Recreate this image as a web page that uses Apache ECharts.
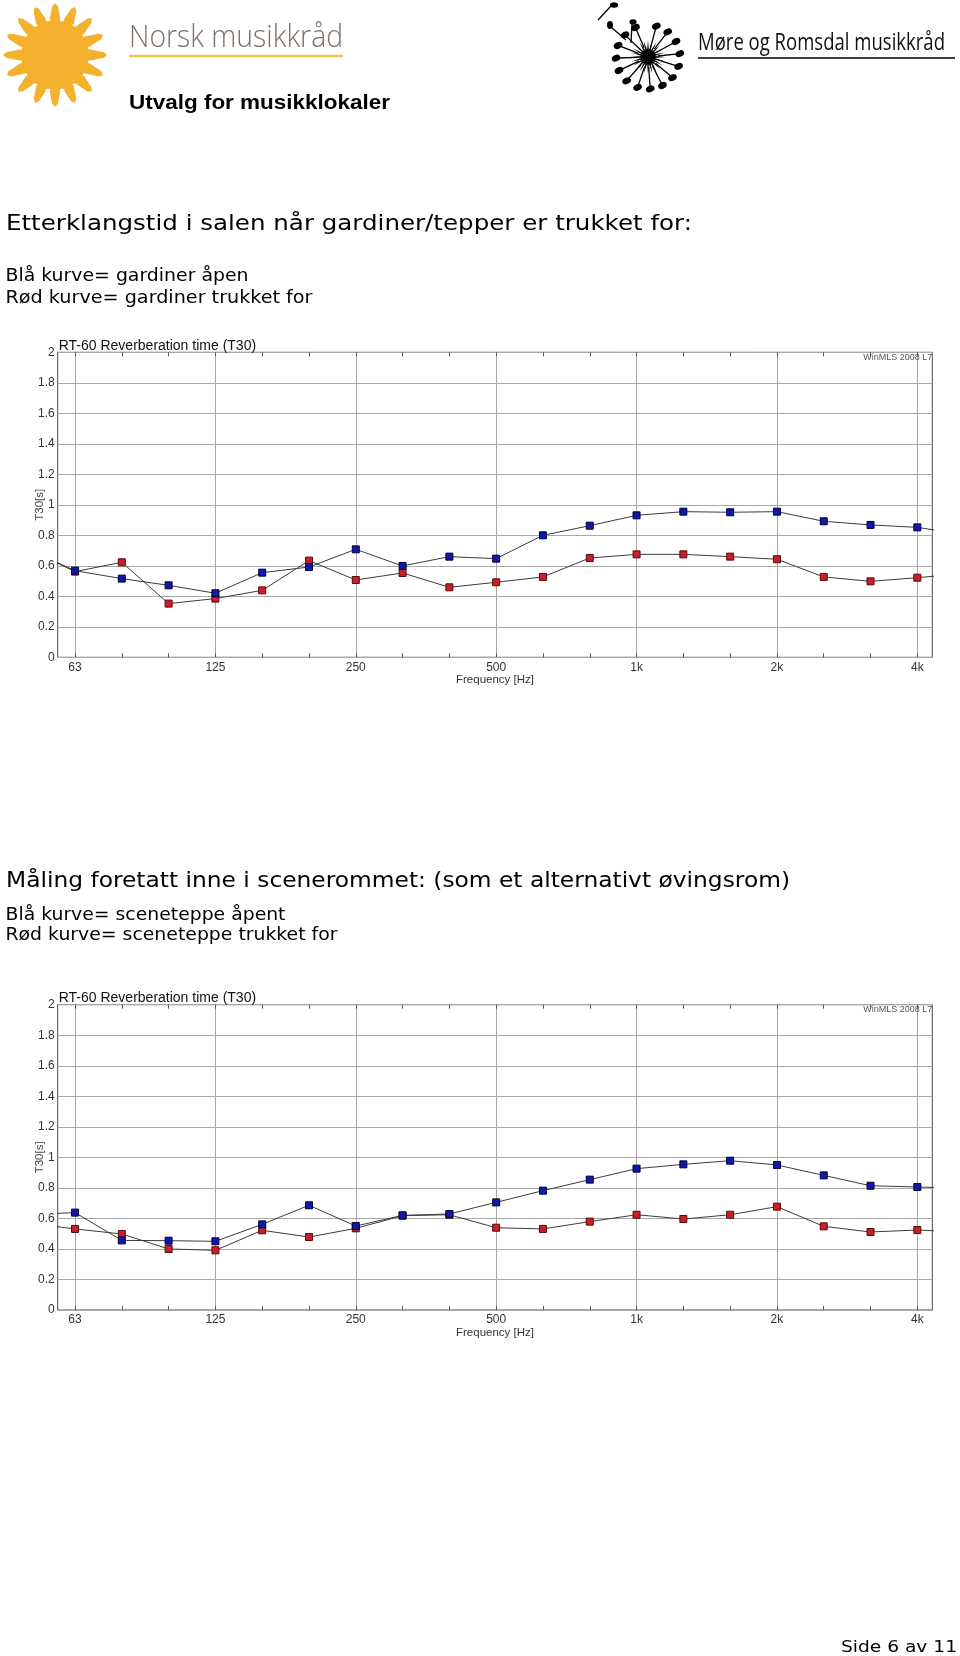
<!DOCTYPE html>
<html>
<head>
<meta charset="utf-8">
<script src="https://cdn.jsdelivr.net/npm/echarts@6/dist/echarts.min.js"></script>
<style>
  html, body { margin: 0; padding: 0; background: #fff; }
  #page { position: relative; width: 960px; height: 1656px; overflow: hidden; background: #fff; }
  #chart { position: absolute; left: 0; top: 0; width: 960px; height: 1656px; z-index: 1; }
  #overlay { position: absolute; left: 0; top: 0; z-index: 2; pointer-events: none; }
</style>
</head>
<body>
<div id="page">
  <div id="chart"></div>
  <svg id="overlay" width="960" height="1656" xmlns="http://www.w3.org/2000/svg"></svg>
</div>
<script>
// ---------------- DATA ----------------
// third-octave bands; 50 Hz and 5k lie just outside the plotted range (lines run off the edges)
const bands = ['50','63','80','100','125','160','200','250','315','400','500','630','800','1k','1.25k','1.6k','2k','2.5k','3.15k','4k','5k'];
const octaveLabels = ['63','125','250','500','1k','2k','4k'];
const yTicks = [0, 0.2, 0.4, 0.6, 0.8, 1, 1.2, 1.4, 1.6, 1.8, 2];

// Chart 1: hall, curtains open (blue) / curtains drawn (red)
const hallOpen   = [0.71, 0.568, 0.516, 0.472, 0.420, 0.555, 0.592, 0.708, 0.599, 0.660, 0.647, 0.800, 0.863, 0.931, 0.955, 0.951, 0.955, 0.892, 0.868, 0.852, 0.805];
const hallClosed = [0.71, 0.562, 0.623, 0.352, 0.385, 0.439, 0.634, 0.507, 0.553, 0.459, 0.492, 0.527, 0.651, 0.675, 0.675, 0.660, 0.643, 0.527, 0.498, 0.522, 0.55];
// Chart 2: stage room, stage curtain open (blue) / drawn (red)
const stageOpen   = [0.625, 0.638, 0.456, 0.454, 0.450, 0.561, 0.686, 0.550, 0.620, 0.629, 0.705, 0.782, 0.854, 0.926, 0.954, 0.978, 0.950, 0.882, 0.814, 0.806, 0.797];
const stageClosed = [0.57, 0.531, 0.498, 0.400, 0.391, 0.522, 0.478, 0.535, 0.618, 0.624, 0.539, 0.531, 0.579, 0.624, 0.596, 0.624, 0.677, 0.548, 0.511, 0.524, 0.51];

const chartTitle = 'RT-60 Reverberation time (T30)';
const watermark = 'WinMLS 2008 L7';
const yName = 'T30[s]';
const xName = 'Frequency [Hz]';

// ---------------- LAYOUT ----------------
const bandPos = bands.map((b, i) => i - 1);           // 63 Hz -> 0
const tickPos = bandPos.filter(p => p >= 0 && p <= 18);
const octavePos = octaveLabels.map((l, i) => i * 3);
const X_MIN = -0.37, X_MAX = 18.32;
const grids = [
  { left: 57.7, top: 352.3, width: 874.6, height: 305 },
  { left: 57.7, top: 1004.7, width: 874.6, height: 305.3 }
];
const LABEL_FONT = 'Liberation Sans, Arial, sans-serif';

function toPairs(vals) { return vals.map((v, i) => [bandPos[i], v]); }

const xAxes = [], yAxes = [], series = [], graphics = [];
grids.forEach((g, gi) => {
  // octave axis: labels + vertical grid lines
  xAxes.push({
    gridIndex: gi, type: 'value', min: X_MIN, max: X_MAX, position: 'bottom',
    axisLine: { show: false },
    axisTick: { show: false, customValues: octavePos },
    axisLabel: { customValues: octavePos, formatter: v => octaveLabels[Math.round(v / 3)],
                 color: '#333', fontSize: 12, fontFamily: LABEL_FONT, margin: 4 },
    splitLine: { show: true, lineStyle: { color: '#a8a8a8', width: 1 } },
    name: xName, nameLocation: 'middle', nameGap: 17, nameMoveOverlap: false,
    nameTextStyle: { color: '#333', fontSize: 11.5, fontFamily: LABEL_FONT }
  });
  // third-octave ticks, bottom and top
  ['bottom', 'top'].forEach(pos => {
    xAxes.push({
      gridIndex: gi, type: 'value', min: X_MIN, max: X_MAX, position: pos,
      axisLine: { show: false },
      axisTick: { show: true, inside: true, length: 4, customValues: tickPos, lineStyle: { color: '#555' } },
      axisLabel: { show: false, customValues: tickPos },
      splitLine: { show: false }
    });
  });
  yAxes.push({
    gridIndex: gi, type: 'value', min: 0, max: 2, interval: 0.2,
    axisLine: { show: false }, axisTick: { show: false },
    axisLabel: { color: '#333', fontSize: 12, fontFamily: LABEL_FONT, margin: 3 },
    splitLine: { show: true, lineStyle: { color: '#a8a8a8', width: 1 } },
    name: yName, nameLocation: 'middle', nameGap: 12, nameRotate: 90, nameMoveOverlap: false,
    nameTextStyle: { color: '#444', fontSize: 11.5, fontFamily: LABEL_FONT }
  });
  graphics.push({
    type: 'text', x: g.left + 1, y: g.top - 6.5, z: 10,
    style: { text: chartTitle, font: '14px ' + LABEL_FONT, fill: '#111', verticalAlign: 'middle', align: 'left' }
  });
  graphics.push({
    type: 'text', x: g.left + g.width, y: g.top + 5, z: 10,
    style: { text: watermark, font: '9px ' + LABEL_FONT, fill: '#555', verticalAlign: 'middle', align: 'right' }
  });
});

function lineSeries(gi, data, fill, border) {
  return {
    type: 'line', xAxisIndex: gi * 3, yAxisIndex: gi, data: toPairs(data),
    symbol: 'rect', symbolSize: 7, showSymbol: true, clip: true, animation: false,
    lineStyle: { color: '#3c3c3c', width: 1 },
    itemStyle: { color: fill, borderColor: border, borderWidth: 1 },
    emphasis: { disabled: true }
  };
}
const RED = '#c91f26', RED_B = '#5a0a0a', BLUE = '#0c1aa6', BLUE_B = '#00003a';
series.push(lineSeries(0, hallClosed, RED, RED_B));
series.push(lineSeries(0, hallOpen, BLUE, BLUE_B));
series.push(lineSeries(1, stageClosed, RED, RED_B));
series.push(lineSeries(1, stageOpen, BLUE, BLUE_B));

const chart = echarts.init(document.getElementById('chart'), null, { renderer: 'canvas' });
chart.setOption({
  animation: false,
  backgroundColor: 'transparent',
  grid: grids.map(g => Object.assign({ show: true, borderColor: '#4a4a4a', borderWidth: 1, backgroundColor: 'transparent', containLabel: false }, g)),
  xAxis: xAxes,
  yAxis: yAxes,
  series: series,
  graphic: graphics
});

// ---------------- PAGE TEXT & LOGOS (SVG overlay) ----------------
const NS = 'http://www.w3.org/2000/svg';
const svg = document.getElementById('overlay');
function el(tag, attrs, parent) {
  const e = document.createElementNS(NS, tag);
  for (const k in attrs) e.setAttribute(k, attrs[k]);
  (parent || svg).appendChild(e);
  return e;
}
function text(str, x, y, size, width, opts) {
  opts = opts || {};
  const t = el('text', {
    x: x, y: y, 'font-size': size,
    'font-family': opts.family || 'DejaVu Sans, Verdana, sans-serif',
    'font-weight': opts.weight || 'normal',
    fill: opts.fill || '#000',
    textLength: width, lengthAdjust: 'spacingAndGlyphs'
  });
  t.textContent = str;
}
function polar(r, a) { return (r * Math.cos(a)).toFixed(1) + ',' + (r * Math.sin(a)).toFixed(1); }

// Sun logo (Norsk musikkråd)
const sun = el('g', { transform: 'translate(55,55)', fill: '#F4B12E' });
el('circle', { cx: 0, cy: 0, r: 37 }, sun);
for (let k = 0; k < 16; k++) {
  const a = k * Math.PI / 8, d = 10 * Math.PI / 180;
  el('polygon', { points: [polar(34, a - d), polar(49, a - d / 3), polar(52, a), polar(49, a + d / 3), polar(34, a + d)].join(' ') }, sun);
}
for (let k = 0; k < 16; k++) {
  const a = k * Math.PI / 8 + Math.PI / 16;
  const c = polar(36, a).split(',');
  el('ellipse', { cx: c[0], cy: c[1], rx: 2.4, ry: 1.7, fill: '#fff' }, sun);
}
text('Norsk musikkråd', 129, 47, 32, 214, { family: 'Open Sans, Liberation Sans, sans-serif', weight: 300, fill: '#7d716a' });
el('line', { x1: 129, y1: 56, x2: 343, y2: 56, stroke: '#F2C14E', 'stroke-width': 2.5 });
text('Utvalg for musikklokaler', 129, 109, 21, 261, { family: 'Liberation Sans, Arial, sans-serif', weight: 'bold' });

// Møre og Romsdal logo
const burst = el('g', { transform: 'translate(648,57)', fill: '#000', stroke: '#000' });
{
  const pts = [];
  for (let k = 0; k < 48; k++) pts.push(polar(k % 2 ? 7 : 17, k * Math.PI / 24));
  el('polygon', { points: pts.join(' '), 'stroke-width': 0 }, burst);
  for (let k = 0; k < 15; k++) {
    const a = (-75 + k * 23) * Math.PI / 180;
    const p1 = polar(10, a).split(','), p2 = polar(30, a).split(','), c = polar(32, a).split(',');
    el('line', { x1: p1[0], y1: p1[1], x2: p2[0], y2: p2[1], 'stroke-width': 1.3 }, burst);
    el('ellipse', { cx: c[0], cy: c[1], rx: 4.5, ry: 3.2, 'stroke-width': 0, transform: 'rotate(-25 ' + c[0] + ' ' + c[1] + ')' }, burst);
  }
}
el('line', { x1: 598, y1: 20, x2: 611, y2: 6, stroke: '#000', 'stroke-width': 1.3 });
el('ellipse', { cx: 614, cy: 5, rx: 4, ry: 2.8, fill: '#000' });
el('line', { x1: 611, y1: 27, x2: 626, y2: 40, stroke: '#000', 'stroke-width': 1.3 });
el('ellipse', { cx: 610, cy: 25, rx: 3, ry: 4, fill: '#000' });
el('line', { x1: 632, y1: 24, x2: 631, y2: 43, stroke: '#000', 'stroke-width': 1.3 });
el('ellipse', { cx: 633, cy: 22, rx: 3.6, ry: 2.8, fill: '#000' });
text('Møre og Romsdal musikkråd', 698, 50, 23, 247, { family: 'Open Sans, Liberation Sans, sans-serif', fill: '#111' });
el('line', { x1: 698, y1: 58, x2: 955, y2: 58, stroke: '#000', 'stroke-width': 1.5 });

// Document text
text('Etterklangstid i salen når gardiner/tepper er trukket for:', 6, 229.5, 21, 686);
text('Blå kurve= gardiner åpen', 5.5, 281, 18.5, 243);
text('Rød kurve= gardiner trukket for', 5.5, 303.3, 18.5, 307);
text('Måling foretatt inne i scenerommet: (som et alternativt øvingsrom)', 6, 886.7, 21, 784);
text('Blå kurve= sceneteppe åpent', 5.5, 920.3, 18.5, 280);
text('Rød kurve= sceneteppe trukket for', 5.5, 939.5, 18.5, 332);
text('Side 6 av 11', 841, 1651.7, 16, 116);
</script>
</body>
</html>
